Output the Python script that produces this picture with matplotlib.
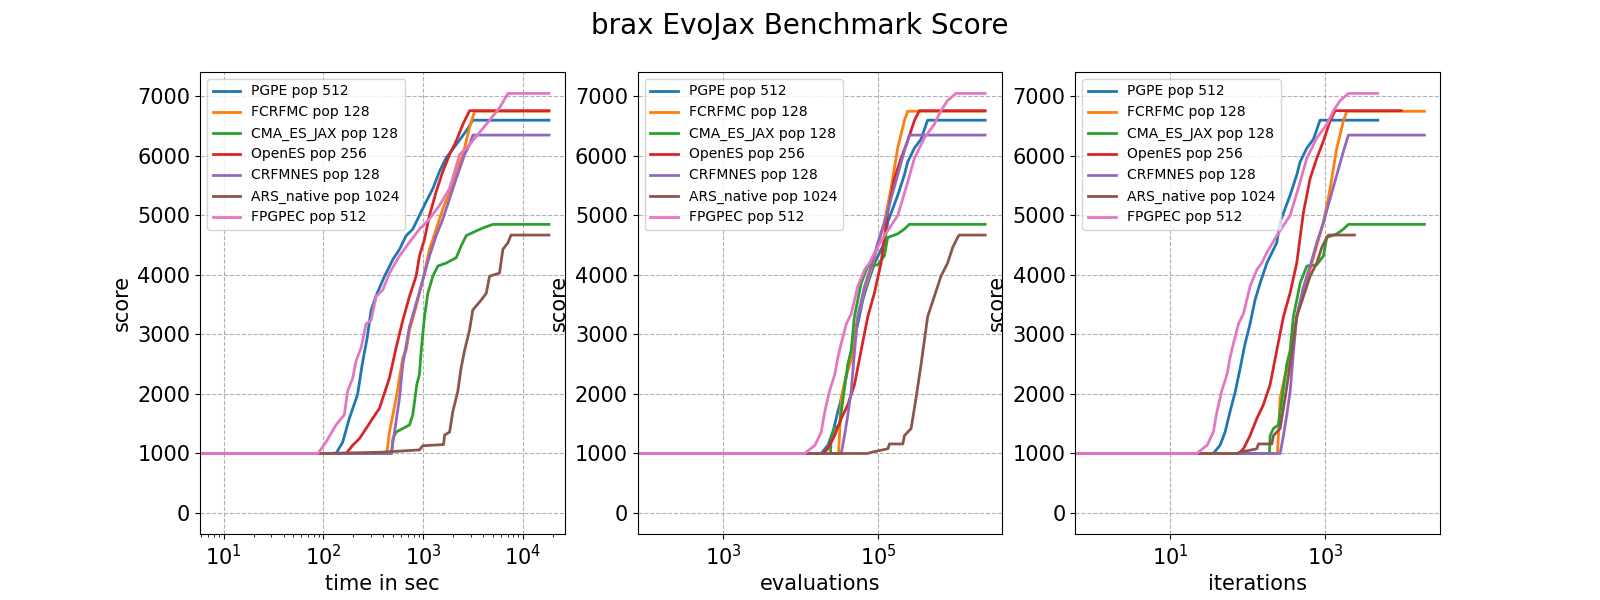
import matplotlib.pyplot as plt
import matplotlib.ticker as mticker
import numpy as np

# Названия методов и размеры популяций (как в легенде)
names = ["PGPE", "FCRFMC", "CMA_ES_JAX", "OpenES", "CRFMNES", "ARS_native", "FPGPEC"]
pops = [512, 128, 128, 256, 128, 1024, 512]

# Лучший score по итерациям (итерация, score)
iters_pgpe = [0, 36, 44, 51, 59, 69, 80, 92, 107, 124, 144, 176, 236, 261, 351, 427, 472, 575, 700, 853, 4720]
score_iters_pgpe = [1000, 1000, 1140, 1360, 1700, 2040, 2440, 2840, 3180, 3580, 3860, 4200, 4540, 4890, 5340,
                    5680, 5900, 6130, 6280, 6600, 6600]

iters_fcrfmc = [0, 241, 248, 261, 300, 351, 427, 521, 635, 773, 942, 1148, 1400, 1706, 1883, 18830]
score_iters_fcrfmc = [1000, 1000, 1300, 1930, 2300, 2560, 3300, 3750, 4090, 4490, 4880, 5450, 6130, 6590, 6750, 6750]

iters_cma = [0, 190, 194, 214, 248, 288, 318, 351, 387, 472, 575, 773, 942, 1040, 1400, 1706, 1978, 18830]
score_iters_cma = [1000, 1000, 1300, 1420, 1480, 2100, 2500, 2730, 3300, 3860, 4150, 4170, 4320, 4630, 4690, 4770,
                   4850, 4850]

iters_openes = [0, 76, 88, 107, 131, 159, 194, 236, 288, 351, 427, 521, 635, 773, 942, 1148, 1332, 9420]
score_iters_openes = [1000, 1000, 1080, 1300, 1590, 1820, 2160, 2730, 3300, 3700, 4200, 5050, 5620, 5960, 6250,
                      6590, 6760, 6760]

iters_crfmnes = [0, 261, 288, 318, 351, 387, 427, 521, 635, 773, 942, 1148, 1400, 1706, 1978, 18830]
score_iters_crfmnes = [1000, 1000, 1300, 1650, 2040, 2700, 3300, 3800, 4150, 4540, 4880, 5280, 5680, 6080, 6350, 6350]

iters_ars = [0, 72, 80, 131, 137, 204, 214, 261, 302, 351, 427, 521, 635, 773, 897, 1040, 1093, 2362]
score_iters_ars = [1000, 1000, 1020, 1080, 1160, 1160, 1300, 1420, 1930, 2500, 3300, 3640, 3980, 4200, 4460, 4630,
                   4670, 4670]

iters_fpgpec = [0, 22, 30, 36, 40, 46, 54, 59, 65, 76, 88, 97, 107, 131, 151, 176, 236, 288, 351, 472, 575, 773,
                1040, 1268, 1545, 1978, 4720]
score_iters_fpgpec = [1000, 1000, 1140, 1360, 1700, 2045, 2330, 2610, 2840, 3180, 3350, 3580, 3810, 4090, 4200, 4375,
                      4660, 4830, 5000, 5560, 5960, 6300, 6530, 6760, 6930, 7050, 7050]

# Лучший score по времени (секунды, score)
time_pgpe = [0, 134, 156, 182, 220, 245, 275, 301, 345, 410, 497, 579, 675, 787, 918, 1071, 1250, 1458, 1701, 2143,
             2700, 3150, 18230]
score_time_pgpe = [1000, 1000, 1190, 1590, 1990, 2500, 2950, 3410, 3690, 3980, 4260, 4430, 4660, 4770, 5000, 5230,
                   5450, 5740, 5970, 6190, 6420, 6600, 6600]

time_fcrfmc = [0, 432, 459, 536, 625, 675, 729, 850, 992, 1157, 1350, 1575, 1837, 2143, 2500, 2917, 3274, 18230]
score_time_fcrfmc = [1000, 1000, 1360, 1930, 2610, 2730, 3070, 3470, 3920, 4430, 4770, 5110, 5400, 5740, 6020, 6480,
                     6750, 6750]

time_cma = [0, 485, 497, 536, 729, 787, 863, 918, 955, 1031, 1113, 1250, 1403, 1701, 2143, 2406, 2700, 3404, 4124,
            5001, 18230]
score_time_cma = [1000, 1000, 1250, 1360, 1480, 1650, 2160, 2330, 2730, 3300, 3690, 3980, 4150, 4200, 4290, 4490,
                  4660, 4740, 4800, 4850, 4850]

time_openes = [0, 169, 197, 230, 268, 312, 365, 394, 459, 536, 625, 729, 850, 918, 1031, 1157, 1350, 1575, 1837,
               2143, 2500, 2917, 18230]
score_time_openes = [1000, 1000, 1140, 1250, 1420, 1590, 1760, 1930, 2270, 2780, 3240, 3640, 3980, 4320, 4600, 5000,
                     5400, 5740, 6020, 6250, 6530, 6760, 6760]

time_crfmnes = [0, 477, 516, 579, 625, 729, 850, 992, 1157, 1350, 1575, 1837, 2143, 2599, 2917, 3150, 18230]
score_time_crfmnes = [1000, 1000, 1360, 1930, 2500, 3130, 3520, 3920, 4320, 4660, 4940, 5280, 5620, 6020, 6190, 6350,
                      6350]

time_ars = [0, 98, 365, 918, 990, 1600, 1640, 1840, 1980, 2220, 2400, 2600, 2910, 3140, 3820, 4280, 4630, 5820, 6290,
            7060, 7600, 18230]
score_time_ars = [1000, 1000, 1020, 1060, 1130, 1150, 1310, 1360, 1700, 2040, 2440, 2730, 3070, 3410, 3580, 3690,
                  3980, 4030, 4430, 4540, 4670, 4670]

time_fpgpec = [0, 88, 106, 134, 162, 175, 197, 213, 239, 268, 301, 338, 394, 459, 579, 729, 918, 1157, 1458, 1837,
               2315, 2917, 4283, 5838, 7070, 18230]
score_time_fpgpec = [1000, 1000, 1190, 1480, 1650, 2050, 2270, 2560, 2780, 3180, 3240, 3640, 3750, 4030, 4320, 4550,
                     4770, 4940, 5170, 5450, 6020, 6190, 6530, 6810, 7050, 7050]

iters_all = [iters_pgpe, iters_fcrfmc, iters_cma, iters_openes, iters_crfmnes, iters_ars, iters_fpgpec]
score_iters_all = [score_iters_pgpe, score_iters_fcrfmc, score_iters_cma, score_iters_openes, score_iters_crfmnes,
                   score_iters_ars, score_iters_fpgpec]
time_all = [time_pgpe, time_fcrfmc, time_cma, time_openes, time_crfmnes, time_ars, time_fpgpec]
score_time_all = [score_time_pgpe, score_time_fcrfmc, score_time_cma, score_time_openes, score_time_crfmnes,
                  score_time_ars, score_time_fpgpec]

fig, axes = plt.subplots(1, 3, figsize=(16, 6), dpi=100)
fig.suptitle("brax EvoJax Benchmark Score", fontsize=20)

for k in range(len(names)):
    label = names[k] + " pop " + str(pops[k])
    color = "C" + str(k)
    evals = np.array(iters_all[k]) * pops[k]  # число вычислений = итерации * популяция
    axes[0].plot(time_all[k], score_time_all[k], color=color, lw=2, label=label)
    axes[1].plot(evals, score_iters_all[k], color=color, lw=2, label=label)
    axes[2].plot(iters_all[k], score_iters_all[k], color=color, lw=2, label=label)

xlabels = ["time in sec", "evaluations", "iterations"]
xlims = [(5.8, 26200), (78.5, 4.03e6), (0.6, 29900)]
for i, (ax, xl, lim) in enumerate(zip(axes, xlabels, xlims)):
    ax.set_xscale("log")
    ax.xaxis.set_major_locator(mticker.LogLocator(numticks=4))
    if i > 0:
        ax.xaxis.set_minor_locator(mticker.NullLocator())  # при шаге в 2 декады мелких делений нет
    ax.set_xlim(lim)
    ax.set_ylim(-353, 7410)
    ax.set_yticks(np.arange(0, 8000, 1000))
    ax.set_xlabel(xl, fontsize=15)
    ax.set_ylabel("score", fontsize=15)
    ax.tick_params(labelsize=15)
    ax.grid(True, linestyle="--")
    ax.legend(loc="upper left", fontsize=10)

plt.savefig("out.png")
